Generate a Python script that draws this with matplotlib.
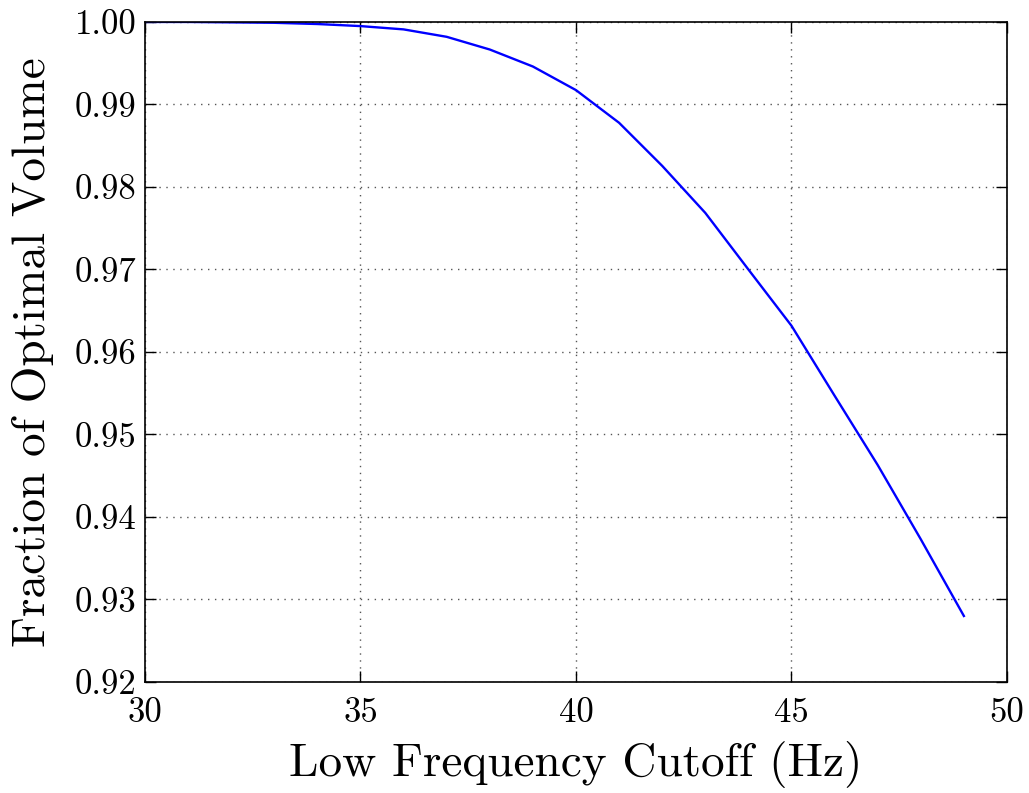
import matplotlib
matplotlib.use("Agg")
import matplotlib.pyplot as plt
from matplotlib.ticker import FormatStrFormatter, MultipleLocator

plt.rcParams['font.family'] = ['cmr10', 'DejaVu Serif']
plt.rcParams['axes.formatter.use_mathtext'] = True

# Low-frequency cutoff (Hz) and fraction of optimal sensitive volume
cutoff_hz = [30, 31, 32, 33, 34, 35, 36, 37, 38, 39,
             40, 41, 42, 43, 44, 45, 46, 47, 48, 49]
volume_fraction = [1.0000, 1.0000, 0.99995, 0.9999, 0.99975, 0.9995, 0.9991, 0.9982,
                   0.99666, 0.9946, 0.99174, 0.98778, 0.98256, 0.97686, 0.9700,
                   0.96318, 0.9547, 0.9463, 0.9373, 0.9280]

fig = plt.figure(figsize=(10.29, 7.93), dpi=100)
ax = fig.add_axes([0.1409, 0.14, 0.8377, 0.8323])

ax.plot(cutoff_hz, volume_fraction, color='blue', linewidth=1.7)

ax.set_xlim(30, 50)
ax.set_ylim(0.92, 1.00)
ax.xaxis.set_major_locator(MultipleLocator(5))
ax.yaxis.set_major_locator(MultipleLocator(0.01))
ax.yaxis.set_major_formatter(FormatStrFormatter('%.2f'))
ax.xaxis.set_major_formatter(FormatStrFormatter('%d'))

ax.grid(True, color='#555555', linestyle=(0, (1, 4)), linewidth=1.0)
ax.tick_params(direction='in', top=True, right=True, length=8, width=1,
               labelsize=25)
ax.tick_params(axis='x', pad=11)
ax.tick_params(axis='y', pad=6)
for s in ax.spines.values():
    s.set_linewidth(1.2)

ax.set_xlabel('Low Frequency Cutoff (Hz)', fontsize=34, labelpad=9)
ax.set_ylabel('Fraction of Optimal Volume', fontsize=34, labelpad=15)

fig.savefig('out.png', dpi=100)
